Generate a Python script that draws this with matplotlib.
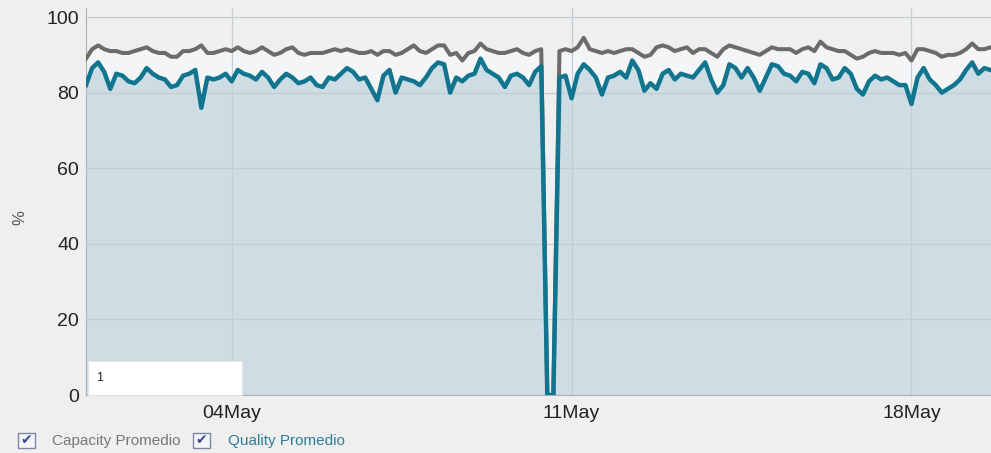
import numpy as np
import pandas as pd
import matplotlib
matplotlib.use("Agg")
import matplotlib.pyplot as plt
import matplotlib.dates as mdates
from matplotlib.patches import Rectangle

# 3-hourly readings starting 01 May
quality = [
    82, 86.5, 88, 85.5, 81, 85, 84.5, 83, 82.5, 84,
    86.5, 85, 84, 83.5, 81.5, 82, 84.5, 85, 86, 76,
    84, 83.5, 84, 85, 83, 86, 85, 84.5, 83.5, 85.5,
    84, 81.5, 83.5, 85, 84, 82.5, 83, 84,
    82, 81.5, 84, 83.5, 85, 86.5, 85.5, 83.5, 84, 81,
    78, 84.5, 86, 80, 84, 83.5, 83, 82, 84, 86.5,
    88, 87.5, 80, 84, 83, 84.5, 85, 89, 86, 85,
    84, 81.5, 84.5, 85, 84, 82,
    85.5, 87, 0, 0, 84, 84.5, 78.5, 85, 87.5, 86,
    84, 79.5, 84, 84.5, 85.5, 84, 88.5, 86, 80.5, 82.5,
    81, 85, 86, 83.5, 85, 84.5, 84, 86, 88, 83.5,
    80, 82, 87.5, 86.5, 84, 86.5, 84, 80.5, 84,
    87.5, 87, 85, 84.5, 83, 85.5, 85, 82.5, 87.5, 86.5,
    83.5, 84, 86.5, 85, 81, 79.5, 83, 84.5, 83.5, 84,
    83, 82, 82, 77, 84, 86.5, 83.5, 82, 80, 81,
    82, 83.5, 86, 88, 85, 86.5, 86, 85.5,
]
capacity = [
    89, 91.5, 92.5, 91.5, 91, 91, 90.5, 90.5, 91, 91.5,
    92, 91, 90.5, 90.5, 89.5, 89.5, 91, 91, 91.5, 92.5,
    90.5, 90.5, 91, 91.5, 91, 92, 91, 90.5, 91, 92,
    91, 90, 90.5, 91.5, 92, 90.5, 90, 90.5,
    90.5, 90.5, 91, 91.5, 91, 91.5, 91, 90.5, 90.5, 91,
    90, 91, 91, 90, 90.5, 91.5, 92.5, 91, 90.5, 91.5,
    92.5, 92.5, 90, 90.5, 88.5, 90.5, 91, 93, 91.5, 91,
    90.5, 90.5, 91, 91.5, 90.5, 90,
    91, 91.5, 0, 0, 91, 91.5, 91, 92, 94.5, 91.5,
    91, 90.5, 91, 90.5, 91, 91.5, 91.5, 90.5, 89.5, 90,
    92, 92.5, 92, 91, 91.5, 92, 90.5, 91.5, 91.5, 90.5,
    89.5, 91.5, 92.5, 92, 91.5, 91, 90.5, 90, 91,
    92, 91.5, 91.5, 91.5, 90.5, 91.5, 92, 91, 93.5, 92,
    91.5, 91, 91, 90, 89, 89.5, 90.5, 91, 90.5, 90.5,
    90.5, 90, 90.5, 88.5, 91.5, 91.5, 91, 90.5, 89.5, 90,
    90, 90.5, 91.5, 93, 91.5, 91.5, 92, 91.5,
]
yticks = [0, 20, 40, 60, 80, 100]
xtick_days = [4, 11, 18]

times = pd.date_range("2014-05-01", periods=len(quality), freq="3h")

bg = "#efefef"
teal = "#11758f"
grey = "#6b6b6b"
fill_col = "#cddde3"

fig = plt.figure(figsize=(9.91, 4.53), dpi=100, facecolor=bg)
ax = fig.add_axes([86 / 991, 58 / 453, 1 - 86 / 991, 387 / 453])
ax.set_facecolor(bg)

ax.fill_between(times, 0, capacity, color="#f3f5f6", lw=0, zorder=1)
ax.fill_between(times, 0, quality, color=fill_col, lw=0, zorder=2)
ax.plot(times, capacity, color=grey, lw=2.9, zorder=3)
ax.plot(times, quality, color=teal, lw=3.2, zorder=4)

ax.set_ylim(0, 102.4)
start = times[0]
ax.set_xlim(start, start + pd.Timedelta(hours=3 * 149.1))

ax.set_yticks(yticks)
ax.xaxis.set_major_locator(mdates.DayLocator(bymonthday=xtick_days))
ax.xaxis.set_major_formatter(mdates.DateFormatter("%d%b"))
ax.grid(True, color="#c4cdd1", lw=0.9, zorder=2.5)
ax.set_axisbelow(False)

tick_font = ["Liberation Sans Narrow", "Liberation Sans"]
for lab in ax.get_yticklabels() + ax.get_xticklabels():
    lab.set_family(tick_font)
    lab.set_fontsize(14)
    lab.set_color("#222222")
ax.tick_params(axis="both", length=0)
ax.tick_params(axis="y", pad=5)
ax.tick_params(axis="x", pad=7)

for s in ["top", "right"]:
    ax.spines[s].set_visible(False)
ax.spines["left"].set_color("#a9b2b8")
ax.spines["bottom"].set_color("#a9b2b8")

fig.text(20 / 991, 1 - 218 / 453, "%", rotation=90, ha="center", va="center",
         fontsize=12, color="#555555", family="Liberation Sans")

# little white label box in the corner
fig.patches.append(Rectangle((88 / 991, 1 - 395 / 453), 154 / 991, 34 / 453,
                             transform=fig.transFigure, facecolor="white",
                             edgecolor="#e4e4e4", lw=0.6, zorder=5))
fig.text(96 / 991, 1 - 378 / 453, "1", fontsize=9, color="#222222",
         family="Liberation Sans", va="center", zorder=6)

# legend checkboxes
for bx, label, col, tx in [(18, "Capacity Promedio", "#777777", 52),
                           (193, "Quality Promedio", "#2a7f96", 228)]:
    fig.patches.append(Rectangle((bx / 991, 1 - 448 / 453), 17 / 991, 15 / 453,
                                 transform=fig.transFigure, facecolor="#f4f5fa",
                                 edgecolor="#7d86a3", lw=1.0))
    fig.text((bx + 8.5) / 991, 1 - 440 / 453, "\u2714", ha="center", va="center",
             fontsize=10, color="#3a4a8c", family="DejaVu Sans")
    fig.text(tx / 991, 1 - 441 / 453, label, ha="left", va="center",
             fontsize=11, color=col, family="Liberation Sans")

fig.savefig("out.png", dpi=100, facecolor=bg)
